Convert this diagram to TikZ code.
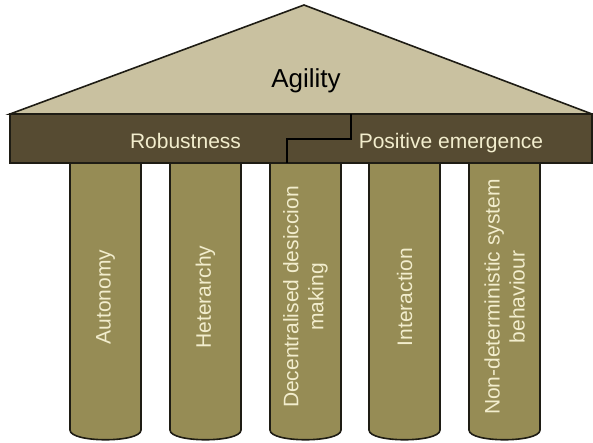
\documentclass[tikz,border=0pt]{standalone}
\usepackage{fontspec}
\setmainfont{Liberation Sans}
\usetikzlibrary{positioning}
\definecolor{rooftan}{RGB}{201,193,160}
\definecolor{beambrown}{RGB}{86,75,50}
\definecolor{pillarolive}{RGB}{150,140,85}
\definecolor{paletext}{RGB}{242,237,205}
\definecolor{outline}{RGB}{30,28,20}
\tikzset{
  roof/.style        = {draw=outline, line width=1.6pt, fill=rooftan, line join=miter},
  beam/.style        = {draw=outline, line width=1.6pt, fill=beambrown},
  pillar/.style      = {draw=outline, line width=1.6pt, fill=pillarolive},
  steprule/.style    = {draw=black, line width=1.6pt},
  toplabel/.style    = {font=\fontsize{26}{30}\selectfont, text=black, anchor=base},
  beamlabel/.style   = {font=\fontsize{21}{25}\selectfont, text=paletext, anchor=base},
  pillarlabel/.style = {font=\fontsize{21}{25}\selectfont, text=paletext, rotate=90, align=center},
}

\begin{document}
\begin{tikzpicture}[x=1pt, y=-1pt]
  \useasboundingbox (0,0) rectangle (593,442);

  % roof
  \draw[roof] (10,114) -- (304,5) -- (592,114) -- cycle;
  \node[toplabel] (agility) at (306,87) {Agility};

  % pillars
  \foreach \x/\n/\t in {70/auto/Autonomy, 170/het/Heterarchy,
                        270/dec/{Decentralised desiccion\\making},
                        369/inter/Interaction,
                        469/nondet/{Non-deterministic system\\behaviour}} {
    \draw[pillar] (\x,160) -- (\x,430) .. controls (\x,443) and (\x+71,443) .. (\x+71,430) -- (\x+71,160);
    \node[pillarlabel] (\n) at (\x+35.5,297) {\t};
  }

  % beam
  \draw[beam] (10,114) rectangle (592,163);
  \draw[steprule] (351,114) -- (351,139) -- (287,139) -- (287,163);
  \node[beamlabel] (robust) at (185.5,148) {Robustness};
  \node[beamlabel] (emerge) at (451,148) {Positive emergence};
\end{tikzpicture}
\end{document}
